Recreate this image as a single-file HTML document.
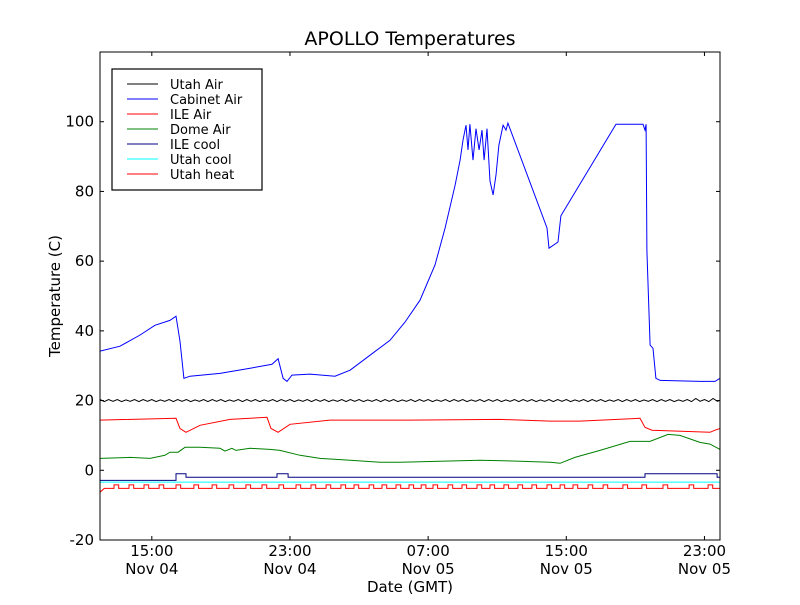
<!DOCTYPE html>
<html><head><meta charset="utf-8"><style>
body{margin:0;background:#fff}
svg{font-family:"DejaVu Sans","Liberation Sans",sans-serif}
</style></head><body>
<svg id="chart" width="800" height="600">
<rect width="800" height="600" fill="#fff"/>
<text x="410" y="45" font-size="19" text-anchor="middle">APOLLO Temperatures</text>
<g id="plot"></g>
<g id="axes"></g>
<text x="410" y="592" font-size="15" text-anchor="middle">Date (GMT)</text>
<text transform="translate(60,296) rotate(-90)" font-size="15" text-anchor="middle">Temperature (C)</text>
<g>
<rect x="112" y="69" width="150" height="121" fill="#fff" stroke="#000" stroke-width="1.2"/>
<g id="legend-items"></g>
</g>
</svg>
<script>
// hours since Nov 04 12:00 GMT
const yTicks=[-20,0,20,40,60,80,100];
const xTickHours=[3,11,19,27,35];
const xTickTimes=["15:00","23:00","07:00","15:00","23:00"];
const xTickDates=["Nov 04","Nov 04","Nov 05","Nov 05","Nov 05"];
const cabinetT=[0,1.16,2.32,3.18,4.05,4.40,4.63,4.86,5.21,6.95,8.69,9.96,10.31,10.6,10.83,11.12,12.16,13.61,14.48,15.63,16.79,17.66,18.53,19.4,19.98,20.56,20.85,21.02,21.19,21.31,21.42,21.6,21.77,21.95,22.12,22.24,22.41,22.58,22.76,22.93,23.1,23.34,23.51,23.62,25.88,26.0,26.52,26.69,29.88,31.44,31.56,31.62,31.67,31.85,32.02,32.19,32.43,34.74,35.61,35.9];
const cabinetV=[34.2,35.6,38.8,41.6,43,44.2,37,26.4,27,27.8,29.3,30.4,32,26.4,25.5,27.3,27.6,27,28.7,33,37.3,42.5,48.8,58.9,69.5,81.8,89,94.7,99,91.9,99.3,89,98,91.9,97.6,89,98,83,79,84.7,93.3,99,97.6,99.6,69.5,63.7,65.5,73,99.3,99.3,97.6,99.3,63,35.9,35,26.4,25.8,25.5,25.5,26.4];
const ileAirT=[0,4.40,4.63,4.98,5.79,7.53,9.67,9.9,10.31,11.0,13.32,17.95,23.16,26.06,27.79,31.27,31.56,31.97,35.32,35.61,35.9];
const ileAirV=[14.4,14.9,12,10.9,12.9,14.6,15.2,12,10.9,13.2,14.4,14.4,14.6,14.1,14.1,14.9,12.3,11.5,10.9,11.5,12];
const domeT=[0,1.74,2.9,3.76,4.05,4.52,4.92,5.79,6.95,7.24,7.64,7.87,8.69,9.84,10.42,11.58,12.74,14.48,16.21,17.37,19.69,22.0,24.32,26.06,26.64,27.5,28.95,30.69,31.85,32.89,33.58,34.74,35.32,35.9];
const domeV=[3.4,3.7,3.4,4.3,5.2,5.2,6.6,6.6,6.3,5.5,6.3,5.7,6.3,6,5.7,4.3,3.4,2.9,2.3,2.3,2.6,2.9,2.6,2.3,2,3.7,5.7,8.3,8.3,10.3,10,8,7.5,6];
const utahAirV=[20.3,19.7,20.3,19.8,20.3,19.7,20.2,19.8,20.3,19.7,20.3,19.8,20.3,19.7,20.2,19.8,20.3,19.7,20.3,19.8,20.3,19.7,20.2,19.8,20.3,19.7,20.3,19.8,20.3,19.7,20.2,19.8,20.3,19.7,20.3,19.8,20.3,19.7,20.2,19.8,20.3,19.7,20.3,19.8,20.3,19.7,20.2,19.8,20.3,19.7,20.3,19.8,20.3,19.7,20.2,19.8,20.3,19.7,20.3,19.8,20.3,19.7,20.2,19.8,20.3,19.7,20.3,19.8,20.3,19.7,20.2,19.8,20.3,19.7,20.3,19.8,20.3,19.7,20.2,19.8,20.3,19.7,20.3,19.8,20.3,19.7,20.2,19.8,20.3,19.7,20.3,19.8,20.3,19.7,20.2,19.8,20.3,19.7,20.3,19.8,20.3,19.7,20.2,19.8,20.3,19.7,20.3,19.8,20.3,19.7,20.2,19.8,20.3,19.7,20.3,19.8,20.3,19.7,20.2,19.8,20.3,19.7,20.3,19.8,20.3,19.7,20.2,19.8,20.3,19.7,20.3,19.8,20.3,19.7,20.2,19.8,20.3,19.7,20.6,19.8,20.3,19.7,20.6,19.8,20.3,19.7,20.2,19.8];
const utahAirStep=0.25;
const ileCoolT=[0,4.40,4.40,4.98,4.98,10.25,10.25,10.89,10.89,31.56,31.56,35.73,35.73,35.9];
const ileCoolV=[-2.9,-2.9,-1,-1,-2,-2,-1,-1,-2,-2,-1,-1,-2,-2];
const utahCoolT=[0,35.9];
const utahCoolV=[-3.4,-3.4];
const heatStarts=[0.81,1.68,2.55,3.42,4.40,5.44,6.49,7.47,8.45,9.38,10.36,11.35,12.22,13.09,13.95,14.71,15.58,16.33,17.14,17.89,18.6,19.28,20.15,20.96,21.83,22.58,23.39,24.2,25.01,25.88,26.64,27.39,28.26,29.13,30.28,31.38,32.6,34.11,35.21];
const heatBase=-5.2, heatOn=-4.2, heatWidth=0.27;

const X0=100,X1=720,Y0=52,Y1=540,TMAX=35.9;
const xs=t=>X0+t*(X1-X0)/TMAX;
const ys=v=>Y1-(v+20)*(Y1-Y0)/140;
const NS="http://www.w3.org/2000/svg";
const plot=document.getElementById('plot'),axes=document.getElementById('axes');
function mk(tag,attrs,parent){const e=document.createElementNS(NS,tag);for(const k in attrs)e.setAttribute(k,attrs[k]);parent.appendChild(e);return e;}
function line(T,V,color,name){
  const d=T.map((t,i)=>(i?'L':'M')+xs(t).toFixed(1)+' '+ys(V[i]).toFixed(1)).join('');
  const p=mk('path',{d:d,fill:'none',stroke:color,'stroke-width':1},plot);
  
  
}
const clip=mk('clipPath',{id:'cp'},document.getElementById('chart'));
mk('rect',{x:X0,y:Y0,width:X1-X0,height:Y1-Y0},clip);
plot.setAttribute('clip-path','url(#cp)');
line(utahAirV.map((v,i)=>i*utahAirStep),utahAirV,'#000','utah-air-line');
line(cabinetT,cabinetV,'#0000ff','cabinet-air-line');
line(ileAirT,ileAirV,'#ff0000','ile-air-line');
line(domeT,domeV,'#008000','dome-air-line');
line(ileCoolT,ileCoolV,'#000080','ile-cool-line');
line(utahCoolT,utahCoolV,'#00ffff','utah-cool-line');
const hT=[0,0.25],hV=[-6.3,heatBase];
heatStarts.forEach(s=>{hT.push(s,s,s+heatWidth,s+heatWidth);hV.push(heatBase,heatOn,heatOn,heatBase);});
hT.push(TMAX);hV.push(heatBase);
line(hT,hV,'#ff0000','utah-heat-line');
// frame
const fr=mk('rect',{x:X0,y:Y0,width:X1-X0,height:Y1-Y0,fill:'none',stroke:'#000','stroke-width':1},axes);


yTicks.forEach(v=>{const y=ys(v);
  mk('line',{x1:X0,x2:X0+4,y1:y,y2:y,stroke:'#000'},axes);
  mk('line',{x1:X1,x2:X1-4,y1:y,y2:y,stroke:'#000'},axes);
  const t=mk('text',{x:X0-6,y:y+5,'font-size':15,'text-anchor':'end'},axes);t.textContent=v;
  
  
});
xTickHours.forEach((h,i)=>{const x=xs(h);
  mk('line',{x1:x,x2:x,y1:Y1,y2:Y1-4,stroke:'#000'},axes);
  mk('line',{x1:x,x2:x,y1:Y0,y2:Y0+4,stroke:'#000'},axes);
  const t=mk('text',{x:x,y:556,'font-size':15,'text-anchor':'middle'},axes);t.textContent=xTickTimes[i];
  
  
  const d=mk('text',{x:x,y:574,'font-size':15,'text-anchor':'middle'},axes);d.textContent=xTickDates[i];
  
  
});
const legNames=["Utah Air","Cabinet Air","ILE Air","Dome Air","ILE cool","Utah cool","Utah heat"];
const legColors=["#000","#0000ff","#ff0000","#008000","#000080","#00ffff","#ff0000"];
const lg=document.getElementById('legend-items');
legNames.forEach((n,i)=>{const y=84+i*15;
  mk('line',{x1:127,x2:158,y1:y,y2:y,stroke:legColors[i]},lg);
  const t=mk('text',{x:170,y:y+5,'font-size':13},lg);t.textContent=n;
  
  
});
</script>
</body></html>
